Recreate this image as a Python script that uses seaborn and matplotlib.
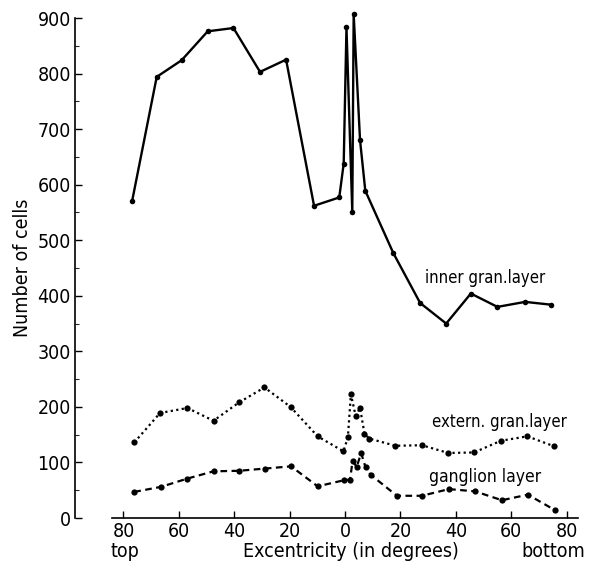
import matplotlib
matplotlib.use("Agg")
import matplotlib.pyplot as plt
import seaborn as sns
import pandas as pd
from matplotlib.ticker import MultipleLocator

# Excentricity: negative = top, positive = bottom
inner_x = [-76.9, -68.0, -59.0, -49.6, -40.3, -30.7, -21.3, -11.2, -2.1, -0.5, 0.5,
           2.6, 3.1, 5.4, 7.3, 17.4, 27.1, 36.5, 45.4, 55.0, 65.0, 74.3]
inner_y = [570, 794, 824, 876, 882, 803, 825, 562, 577, 638, 883,
           551, 907, 680, 589, 477, 387, 350, 404, 380, 389, 384]

extern_x = [-76.1, -66.8, -56.9, -47.5, -38.3, -29.1, -19.7, -9.9, -0.6, 1.0, 2.1,
            3.8, 5.4, 7.0, 8.7, 18.2, 27.7, 37.3, 46.6, 56.2, 65.8, 75.5]
extern_y = [136, 189, 198, 175, 208, 235, 200, 147, 120, 145, 223,
            184, 198, 152, 143, 130, 131, 117, 118, 139, 147, 129]

gangl_x = [-76.1, -66.5, -56.9, -47.5, -38.2, -28.9, -19.5, -9.9, -0.4, 1.8, 2.7,
           4.2, 5.8, 7.4, 9.2, 18.7, 27.7, 37.5, 46.9, 56.6, 66.0, 75.8]
gangl_y = [47, 56, 71, 84, 85, 89, 93, 57, 68, 69, 103,
           92, 117, 91, 78, 40, 40, 52, 48, 32, 42, 14]

x_ticks = [-80, -60, -40, -20, 0, 20, 40, 60, 80]
x_ticklabels = ["80", "60", "40", "20", "0", "20", "40", "60", "80"]
y_ticks = [0, 100, 200, 300, 400, 500, 600, 700, 800, 900]

sns.set_theme(style="ticks")
plt.rcParams['font.family'] = ['DejaVu Sans']
plt.rcParams['font.stretch'] = 'condensed'
plt.rcParams['text.color'] = 'black'

fig = plt.figure(figsize=(5.99, 5.66), dpi=100)
ax = fig.add_axes([75/599, (566-518)/566, (575-75)/599, 500/566])

df_i = pd.DataFrame({"x": inner_x, "y": inner_y})
df_e = pd.DataFrame({"x": extern_x, "y": extern_y})
df_g = pd.DataFrame({"x": gangl_x, "y": gangl_y})

sns.lineplot(data=df_i, x="x", y="y", ax=ax, sort=False, estimator=None,
             color="black", lw=1.7, marker="o", markersize=4, markeredgewidth=0,
             clip_on=False)
sns.lineplot(data=df_e, x="x", y="y", ax=ax, sort=False, estimator=None,
             color="black", lw=1.6, linestyle=(0, (1, 1.5)), marker="o",
             markersize=4.5, markeredgewidth=0, clip_on=False)
sns.lineplot(data=df_g, x="x", y="y", ax=ax, sort=False, estimator=None,
             color="black", lw=1.6, linestyle=(0, (3, 2)), marker="o",
             markersize=4.5, markeredgewidth=0, clip_on=False)

ax.set_xlim(-97.5, 83)
ax.set_ylim(0, 900)
ax.set_xticks(x_ticks)
ax.set_xticklabels(x_ticklabels)
ax.set_yticks(y_ticks)
ax.yaxis.set_minor_locator(MultipleLocator(50))
ax.tick_params(axis="both", which="major", direction="in", length=5, width=1,
               labelsize=14, colors="black", pad=3)
ax.tick_params(axis="y", which="minor", direction="in", length=3, width=0.8)
ax.spines["top"].set_visible(False)
ax.spines["right"].set_visible(False)
ax.spines["left"].set_bounds(0, 900)
ax.spines["bottom"].set_bounds(-84, 84)
for s in ["left", "bottom"]:
    ax.spines[s].set_color("black")
    ax.spines[s].set_linewidth(1.2)

ax.set_xlabel("Excentricity (in degrees)", fontsize=14, labelpad=0, color="black")
ax.set_ylabel("Number of cells", fontsize=14, labelpad=4, color="black")
ax.xaxis.set_label_coords((351-75)/500, -0.048)

ax.text(-79.5, -60, "top", fontsize=14, ha="center", va="center", clip_on=False,
        color="black")
ax.text(75, -60, "bottom", fontsize=14, ha="center", va="center", clip_on=False,
        color="black")

ax.text(50.5, 432, "inner gran.layer", fontsize=12, ha="center", va="center",
        color="black")
ax.text(55.6, 173, "extern. gran.layer", fontsize=12, ha="center", va="center",
        color="black")
ax.text(50.5, 74, "ganglion layer", fontsize=12.5, ha="center", va="center",
        color="black")

fig.savefig("out.png", dpi=100)
